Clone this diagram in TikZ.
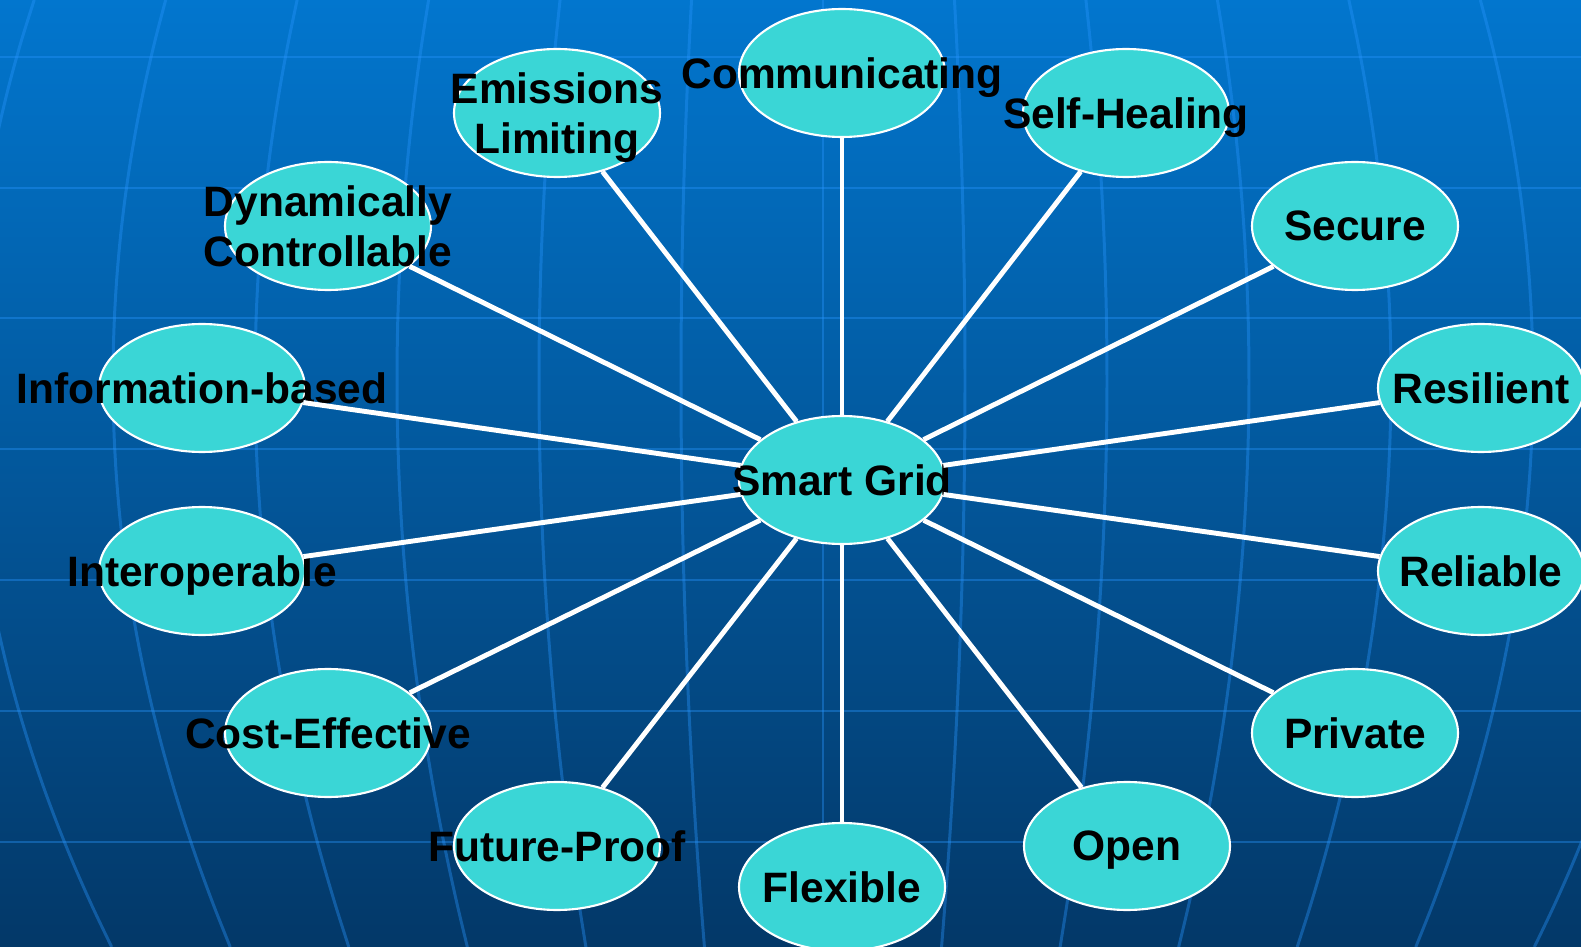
\documentclass[tikz,border=0pt]{standalone}
\usepackage{fontspec}
\setmainfont{Liberation Sans}
\usepackage{xcolor}
\usepackage{tikz}
\usetikzlibrary{shapes.geometric}

\definecolor{bgtop}{RGB}{2,118,206}
\definecolor{bgbot}{RGB}{3,56,104}
\definecolor{gridblue}{RGB}{40,150,255}
\definecolor{bubblefill}{RGB}{58,214,214}

\begin{document}
\begin{tikzpicture}[
    bubble/.style={ellipse, draw=white, line width=0.6pt, fill=bubblefill, minimum width=2.06cm, minimum height=1.28cm, inner sep=0pt},
    txt/.style={font=\fontsize{12.1}{14.3}\selectfont\bfseries, align=center, text=black, inner sep=0pt, text depth=0pt},
    spoke/.style={white, line width=1.4pt},
    gridline/.style={gridblue, opacity=0.38, line width=0.85pt}
  ]
  \def\wid{15.81}
  \def\hei{9.47}

  \shade[top color=bgtop, bottom color=bgbot] (0,0) rectangle (\wid,-\hei);
  \useasboundingbox (0,0) rectangle (\wid,-\hei);

  \begin{scope}
    \clip (0,0) rectangle (\wid,-\hei);
    \foreach \y in {0.57,1.88,3.18,4.49,5.80,7.11,8.42}
      \draw[gridline] (0,-\y) -- (\wid,-\y);
    \foreach \k in {-6,...,6}
      \draw[gridline] plot[domain=0:\hei, samples=25, smooth] ({8.23+1.42*(\k)-0.0073*(\k)*(\x-3.8)^2}, -\x);
  \end{scope}

  \node[bubble, label={[txt]center:Smart Grid}] (sg) at (8.42,-4.80) {};

  \node[bubble, label={[txt]center:Communicating}] (comm) at (8.42,-0.73) {};
  \node[bubble, label={[txt]center:Emissions\\Limiting}] (emis) at (5.57,-1.13) {};
  \node[bubble, label={[txt]center:Self-Healing}] (selfh) at (11.26,-1.13) {};
  \node[bubble, label={[txt]center:Dynamically\\Controllable}] (dyn) at (3.28,-2.26) {};
  \node[bubble, label={[txt]center:Secure}] (secure) at (13.55,-2.26) {};
  \node[bubble, label={[txt]center:Information-based}] (info) at (2.02,-3.88) {};
  \node[bubble, label={[txt]center:Resilient}] (resil) at (14.81,-3.88) {};
  \node[bubble, label={[txt]center:Interoperable}] (inter) at (2.02,-5.71) {};
  \node[bubble, label={[txt]center:Reliable}] (relia) at (14.81,-5.71) {};
  \node[bubble, label={[txt]center:Cost-Effective}] (cost) at (3.28,-7.33) {};
  \node[bubble, label={[txt]center:Private}] (priv) at (13.55,-7.33) {};
  \node[bubble, label={[txt]center:Future-Proof}] (future) at (5.57,-8.46) {};
  \node[bubble, label={[txt]center:Open}] (open) at (11.27,-8.46) {};
  \node[bubble, label={[txt]center:Flexible}] (flex) at (8.42,-8.87) {};

  \foreach \n in {comm,emis,selfh,dyn,secure,info,resil,inter,relia,cost,priv,future,open,flex}
    \draw[spoke] (sg) -- (\n);
\end{tikzpicture}
\end{document}
